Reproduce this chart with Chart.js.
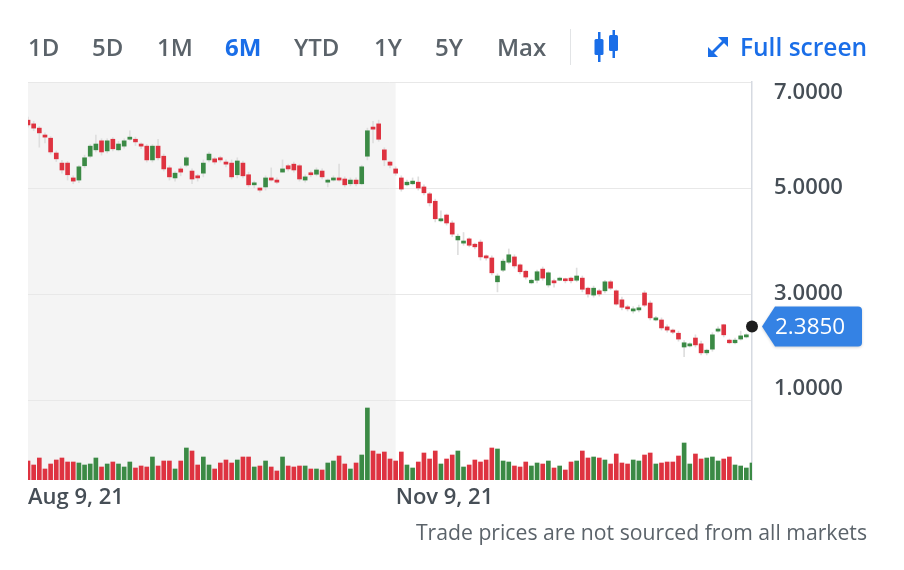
<!DOCTYPE html>
<html>
<head>
<meta charset="utf-8">
<script src="https://cdn.jsdelivr.net/npm/chart.js@4.4.1/dist/chart.umd.min.js"></script>
<style>
  body { margin: 0; background: #fff; font-family: "Open Sans", sans-serif; }
  #wrap { position: relative; width: 904px; height: 570px; overflow: hidden; }
  #chart { position: absolute; left: 0; top: 0; }
  .range { position: absolute; top: 29px; font-size: 24px; font-weight: 600; color: #5b636a; line-height: 36px; }
  .range.on { color: #1a6ee8; font-weight: 700; }
  #sep { position: absolute; left: 570px; top: 29px; width: 1px; height: 36px; background: #e2e4e6; }
  #full { position: absolute; left: 740px; top: 29px; font-size: 24.5px; font-weight: 600; color: #1a6ee8; line-height: 36px; }
  #note { position: absolute; right: 37px; top: 517px; font-size: 21.2px; color: #5b636a; line-height: 30px; }
  svg { position: absolute; }
</style>
</head>
<body>
<div id="wrap">
  <canvas id="chart" width="904" height="570"></canvas>

  <span class="range" style="left:28px">1D</span>
  <span class="range" style="left:92px">5D</span>
  <span class="range" style="left:157px">1M</span>
  <span class="range on" style="left:225px">6M</span>
  <span class="range" style="left:294px">YTD</span>
  <span class="range" style="left:374px">1Y</span>
  <span class="range" style="left:435px">5Y</span>
  <span class="range" style="left:497px">Max</span>
  <div id="sep"></div>

  <!-- candle icon -->
  <svg style="left:592px;top:30px" width="30" height="34" viewBox="0 0 30 34">
    <rect x="6" y="2" width="2.5" height="30" fill="#1a6ee8"/>
    <rect x="2.5" y="9" width="9" height="16" rx="1.5" fill="#1a6ee8"/>
    <rect x="20.5" y="0" width="2.5" height="28" fill="#1a6ee8"/>
    <rect x="17" y="5" width="9" height="16" rx="1.5" fill="#1a6ee8"/>
  </svg>

  <!-- full screen icon -->
  <svg style="left:705px;top:34px" width="26" height="26" viewBox="0 0 26 26">
    <path d="M5 21 L21 5" stroke="#1a6ee8" stroke-width="2.8" fill="none"/>
    <path d="M13 3 L23 3 L23 13 Z" fill="#1a6ee8"/>
    <path d="M3 13 L3 23 L13 23 Z" fill="#1a6ee8"/>
  </svg>
  <span id="full">Full screen</span>

  <span id="note">Trade prices are not sourced from all markets</span>
</div>

<script>
// price data, one entry per trading day
const opens = [
  6.28,6.21,6.13,6.00,5.94,5.66,5.47,5.47,5.19,5.15,
  5.42,5.60,5.72,5.89,5.70,5.92,5.72,5.79,5.92,5.92,
  5.83,5.79,5.53,5.79,5.60,5.38,5.19,5.36,5.43,5.32,
  5.23,5.28,5.53,5.55,5.57,5.49,5.47,5.25,5.47,5.25,
  5.06,5.00,5.02,5.19,5.15,5.30,5.42,5.45,5.42,5.15,
  5.28,5.26,5.32,5.11,5.15,5.19,5.17,5.08,5.15,5.08,
  5.60,6.15,6.21,5.72,5.49,5.36,5.19,5.06,5.08,5.11,
  5.02,4.89,4.75,4.38,4.49,4.34,4.02,3.96,4.04,3.94,
  3.98,3.72,3.68,3.23,3.45,3.60,3.70,3.55,3.43,3.21,
  3.26,3.47,3.17,3.25,3.26,3.28,3.30,3.26,3.30,3.11,
  2.98,3.06,3.06,3.23,3.06,2.89,2.75,2.68,2.70,3.02,
  2.83,2.51,2.51,2.38,2.32,2.26,2.00,2.02,2.17,2.06,
  1.89,1.96,2.30,2.42,2.13,2.08,2.15,2.19,2.36
];
const closes = [
  6.19,6.13,6.04,5.96,5.68,5.55,5.34,5.25,5.13,5.40,
  5.57,5.79,5.83,5.68,5.89,5.74,5.83,5.89,5.96,5.87,
  5.79,5.53,5.79,5.57,5.36,5.21,5.28,5.30,5.57,5.17,
  5.19,5.47,5.64,5.49,5.53,5.45,5.21,5.51,5.23,5.06,
  5.09,4.96,5.19,5.15,5.11,5.36,5.36,5.34,5.17,5.21,
  5.25,5.34,5.21,5.15,5.19,5.15,5.06,5.15,5.08,5.40,
  6.08,6.11,5.92,5.53,5.43,5.28,4.98,5.11,5.13,5.00,
  4.91,4.72,4.42,4.42,4.34,4.13,4.09,4.00,3.92,3.89,
  3.70,3.68,3.40,3.34,3.62,3.74,3.53,3.42,3.32,3.26,
  3.42,3.30,3.40,3.21,3.30,3.25,3.25,3.34,3.09,3.00,
  3.11,3.00,3.23,3.11,2.81,2.75,2.72,2.72,2.74,2.79,
  2.55,2.55,2.36,2.32,2.28,2.15,2.08,2.06,2.04,1.89,
  1.94,2.23,2.34,2.23,2.08,2.13,2.21,2.23,2.385
];
const highs = [
  6.34,6.26,6.16,6.04,5.97,5.70,5.52,5.50,5.23,5.43,
  5.62,5.82,6.00,5.93,5.93,5.95,5.88,5.93,6.08,5.96,
  5.85,5.82,5.82,5.92,5.64,5.42,5.31,5.40,5.60,5.36,
  5.26,5.53,5.68,5.58,5.60,5.53,5.53,5.57,5.51,5.30,
  5.13,5.00,5.23,5.38,5.19,5.53,5.45,5.49,5.45,5.25,
  5.32,5.38,5.36,5.17,5.23,5.45,5.21,5.19,5.19,5.43,
  6.13,6.26,6.28,5.76,5.51,5.40,5.23,5.15,5.19,5.21,
  5.06,4.92,4.79,4.57,4.51,4.38,4.13,4.16,4.06,3.96,
  4.02,3.74,3.72,3.38,3.66,3.85,3.74,3.57,3.45,3.28,
  3.45,3.51,3.42,3.28,3.32,3.30,3.32,3.49,3.34,3.13,
  3.15,3.09,3.26,3.26,3.08,2.94,2.79,2.76,2.79,3.06,
  2.87,2.58,2.55,2.42,2.34,2.30,2.12,2.08,2.23,2.11,
  1.96,2.27,2.38,2.43,2.15,2.17,2.30,2.25,2.40
];
const lows = [
  6.15,6.08,5.77,5.85,5.64,5.50,5.28,5.15,5.08,5.10,
  5.38,5.57,5.68,5.62,5.66,5.70,5.70,5.75,5.90,5.80,
  5.74,5.49,5.49,5.53,5.32,5.15,5.13,5.23,5.40,5.08,
  5.13,5.21,5.49,5.45,5.49,5.40,5.17,5.19,5.19,5.02,
  5.00,4.92,4.96,5.13,5.08,5.30,5.32,5.30,5.13,5.11,
  5.21,5.23,5.17,5.02,5.13,5.13,5.02,5.04,5.04,5.06,
  5.53,5.85,5.88,5.42,5.38,5.24,4.94,5.04,5.06,4.96,
  4.87,4.66,4.36,4.36,4.30,4.08,3.74,3.92,3.89,3.85,
  3.64,3.64,3.36,3.04,3.42,3.57,3.49,3.38,3.28,3.19,
  3.21,3.26,3.13,3.13,3.25,3.21,3.21,3.23,3.04,2.94,
  2.94,2.96,3.02,3.08,2.79,2.70,2.68,2.64,2.66,2.76,
  2.51,2.49,2.32,2.28,2.25,2.11,1.82,2.00,2.00,1.85,
  1.85,1.92,2.28,2.19,2.06,2.06,2.13,2.17,2.34
];
// volume in millions
const volumes = [
  1.9,1.5,2.2,1.1,1.6,2.0,2.2,1.8,1.8,1.7,
  1.5,1.6,2.2,1.3,1.6,1.8,1.6,1.3,1.8,1.2,
  1.4,1.3,2.3,1.4,1.9,1.9,1.1,1.9,3.2,2.9,
  1.5,2.3,1.5,1.1,1.7,2.0,1.7,2.0,2.3,2.3,
  1.3,1.4,1.9,1.3,0.9,2.3,1.4,1.3,1.4,1.4,
  1.1,1.1,1.0,1.7,1.9,2.4,1.6,1.1,1.7,2.5,
  7.2,2.9,2.6,2.8,2.1,1.9,2.8,1.5,1.2,1.8,
  2.7,2.1,2.9,1.6,2.1,2.5,2.9,1.3,1.5,2.0,
  1.8,2.0,3.2,3.1,1.9,1.8,1.4,1.3,1.8,1.4,
  1.7,1.6,1.9,1.2,1.4,1.0,1.8,1.9,2.9,2.2,
  2.3,2.2,2.0,1.6,2.6,1.7,1.6,2.0,1.9,2.5,
  2.7,1.6,1.7,1.8,1.8,2.4,3.7,1.6,2.6,2.1,
  2.2,2.3,1.9,2.1,2.3,1.5,1.4,1.2,1.7
];

const lastPrice = 2.385;
const yTicks = [7, 5, 3, 1];
const xTickIndex = [0, 65];
const xTickText = ["Aug 9, 21", "Nov 9, 21"];
const shadeEndIndex = 65;

// trading days from Aug 9, 2021 (weekdays)
const days = [];
let d = new Date(2021, 7, 9);
while (days.length < opens.length) {
  if (d.getDay() != 0 && d.getDay() != 6) {
    days.push(d.toLocaleDateString("en-US", { month: "short", day: "numeric" }));
  }
  d.setDate(d.getDate() + 1);
}

const UP = "#3b8a45";
const DOWN = "#de3340";
const candleColors = opens.map((o, i) => closes[i] >= o ? UP : DOWN);
const font = "'Open Sans', sans-serif";

// light grey band behind the first three months
const shadePlugin = {
  id: "shade",
  beforeDraw(chart) {
    const { ctx, chartArea, scales } = chart;
    const x1 = scales.x.getPixelForValue(shadeEndIndex);
    ctx.save();
    ctx.fillStyle = "#f4f4f4";
    ctx.fillRect(chartArea.left, chartArea.top, x1 - chartArea.left, chartArea.bottom - chartArea.top);
    ctx.restore();
  }
};

// blue price tag on the right
const tagPlugin = {
  id: "tag",
  afterDraw(chart) {
    const { ctx, chartArea, scales } = chart;
    const y = scales.y.getPixelForValue(lastPrice);
    const tip = chartArea.right + 10;
    const left = tip + 13, right = 862, h = 20, r = 4;
    ctx.save();
    ctx.shadowColor = "rgba(0,0,0,0.18)";
    ctx.shadowBlur = 3;
    ctx.shadowOffsetY = 1;
    ctx.fillStyle = "#3482e4";
    ctx.beginPath();
    ctx.moveTo(tip, y);
    ctx.lineTo(left, y - h);
    ctx.lineTo(right - r, y - h);
    ctx.quadraticCurveTo(right, y - h, right, y - h + r);
    ctx.lineTo(right, y + h - r);
    ctx.quadraticCurveTo(right, y + h, right - r, y + h);
    ctx.lineTo(left, y + h);
    ctx.closePath();
    ctx.fill();
    ctx.shadowColor = "transparent";
    ctx.fillStyle = "#fff";
    ctx.font = "500 22.5px " + font;
    ctx.textBaseline = "middle";
    ctx.textAlign = "left";
    ctx.fillText(lastPrice.toFixed(4), left, y + 1);
    ctx.restore();
  }
};

new Chart(document.getElementById("chart"), {
  type: "bar",
  data: {
    labels: days,
    datasets: [
      {
        label: "Wick",
        data: highs.map((h, i) => [lows[i], h]),
        backgroundColor: "#dedede",
        barThickness: 1,
        grouped: false,
        yAxisID: "y",
        clip: 0,
        order: 3
      },
      {
        label: "Price",
        data: opens.map((o, i) => [o, closes[i]]),
        backgroundColor: candleColors,
        barThickness: 4,
        minBarLength: 2,
        grouped: false,
        yAxisID: "y",
        clip: 0,
        order: 2
      },
      {
        label: "Volume",
        data: volumes,
        backgroundColor: candleColors,
        barThickness: 4,
        grouped: false,
        yAxisID: "yv",
        clip: 0,
        order: 4
      },
      {
        type: "line",
        label: "Last",
        data: opens.map((o, i) => i == opens.length - 1 ? lastPrice : null),
        showLine: false,
        pointRadius: 6,
        pointBackgroundColor: "#1e1e1e",
        pointBorderWidth: 0,
        yAxisID: "y",
        clip: false,
        order: 0
      }
    ]
  },
  options: {
    responsive: false,
    animation: false,
    layout: { padding: { top: 82, left: 28, right: 0, bottom: 0 } },
    plugins: { legend: { display: false }, tooltip: { enabled: false } },
    scales: {
      x: {
        offset: false,
        grid: { display: false, drawTicks: false, offset: false },
        border: { display: false },
        ticks: {
          autoSkip: false,
          maxRotation: 0,
          align: "start",
          padding: 5,
          color: "#464e56",
          font: { family: font, size: 22, weight: "600" },
          callback: (v, i) => {
            const k = xTickIndex.indexOf(i);
            return k >= 0 ? xTickText[k] : "";
          }
        },
        afterFit: s => { s.height = 90; }
      },
      y: {
        position: "right",
        min: -0.509,
        max: 7,
        grid: { color: "#e8e8e8", lineWidth: 1, drawTicks: false },
        border: { display: true, color: "#d6dae1", width: 1.5 },
        afterBuildTicks: s => { s.ticks = yTicks.map(v => ({ value: v })); },
        ticks: {
          padding: 22,
          color: "#464e56",
          font: { family: font, size: 22, weight: "600", lineHeight: 1.0 },
          callback: v => {
            const t = Number(v).toFixed(4);
            if (v == yTicks[0]) return ["", t];
            if (v == yTicks[yTicks.length - 1]) return [t, ""];
            return t;
          }
        },
        afterFit: s => { s.width = 152; }
      },
      yv: {
        display: false,
        min: 0,
        max: 39.8
      }
    }
  },
  plugins: [shadePlugin, tagPlugin]
});
</script>
</body>
</html>
